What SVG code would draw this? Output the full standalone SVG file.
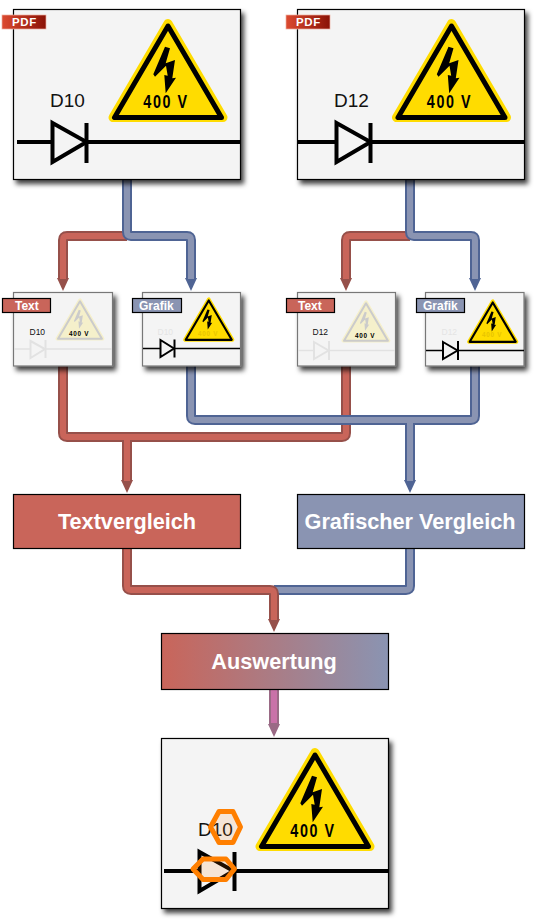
<svg xmlns="http://www.w3.org/2000/svg" xmlns:xlink="http://www.w3.org/1999/xlink" width="538" height="922" viewBox="0 0 538 922">
<style>
text{font-family:"Liberation Sans",Arial,sans-serif}
.box{fill:#f4f4f4;stroke:#000;stroke-width:1.2;filter:url(#sh)}
.sbox{fill:#f4f4f4;stroke:#777;stroke-width:1.2;filter:url(#sh)}
.flat{stroke:#000;stroke-width:1.2}
.big{font-weight:bold;font-size:21.7px;fill:#fff;text-anchor:middle}
.tag{font-weight:bold;font-size:12px;fill:#fff}
.pdf{font-weight:bold;font-size:11.5px;fill:#fff;letter-spacing:.6px}
.t{fill:none;stroke-linejoin:round}
.ro{stroke:#96504a;stroke-width:10}
.ri{stroke:#c9655a;stroke-width:6}
.bo{stroke:#4f6494;stroke-width:10}
.bi{stroke:#8a94b2;stroke-width:6}
.po{stroke:#9a6a85;stroke-width:10}
.pi{stroke:#c972a8;stroke-width:6}
.v,.vs{font-weight:bold;text-anchor:middle}
.v{font-size:17.5px;letter-spacing:1.9px;fill:#000}
.vs{font-size:7.8px;letter-spacing:.85px}
.dl{font-size:19px;fill:#111}
.ds{font-size:8.5px}
.hex{fill:#ff7f00;fill-opacity:.12;stroke:#ff7f00;stroke-width:5;stroke-linejoin:round}
.d4{stroke:#000;stroke-width:4;fill:#f4f4f4}
.d2{stroke:#000;stroke-width:2;fill:#f4f4f4}
.dp{stroke:#e2e2e2;stroke-width:2;fill:#f4f4f4}
</style>
<defs>
<filter id="sh" x="-10%" y="-10%" width="125%" height="125%"><feDropShadow dx="3" dy="4" stdDeviation="2.8" flood-color="#000" flood-opacity=".75"/></filter>
<linearGradient id="pdfg" x1="0" x2="1" y1="0" y2="0"><stop offset="0" stop-color="#dc4a30"/><stop offset="1" stop-color="#8a1206"/></linearGradient>
<linearGradient id="ausw" x1="0" x2="1" y1="0" y2="0"><stop offset="0" stop-color="#c9655a"/><stop offset="1" stop-color="#8a94b2"/></linearGradient>
<marker id="hr" markerUnits="userSpaceOnUse" markerWidth="14" markerHeight="12" refX="0" refY="6" orient="auto" overflow="visible"><path d="M0,0 L13,6 L0,12Z" fill="#96504a"/></marker>
<marker id="hb" markerUnits="userSpaceOnUse" markerWidth="14" markerHeight="12" refX="0" refY="6" orient="auto" overflow="visible"><path d="M0,0 L13,6 L0,12Z" fill="#4f6494"/></marker>
<marker id="hp" markerUnits="userSpaceOnUse" markerWidth="14" markerHeight="12" refX="0" refY="6" orient="auto" overflow="visible"><path d="M0,0 L13,6 L0,12Z" fill="#9a6a85"/></marker>
<g id="sign">
<path d="M168,23.5 L113,117.5 H223Z" fill="#ffdc00" stroke="#ffdc00" stroke-width="9" stroke-linejoin="round"/>
<path d="M168,26 L114.5,117.5 H221.5Z" fill="none" stroke="#000" stroke-width="5" stroke-linejoin="round"/>
<path d="M165,46.7 L170,48.3 L165.7,63.3 L175,60 L172.3,78.3 L176,77.7 L165.7,93.3 L164.3,75 L167.7,75.7 L166,65.7 L155,76.7 L153.3,74.3Z" fill="#000"/>
</g>
</defs>
<g id="connectors">
<g id="c-d10-text"><path class="t ro" marker-end="url(#hr)" d="M127,236 H67 Q63,236 63,240 V278"/><path class="t ri" d="M127,236 H67 Q63,236 63,240 V279"/></g>
<g id="c-d10-grafik"><path class="t bo" marker-end="url(#hb)" d="M127,178 V232 Q127,236 131,236 H187 Q191,236 191,240 V278"/><path class="t bi" d="M127,178 V232 Q127,236 131,236 H187 Q191,236 191,240 V279"/></g>
<g id="c-d12-text"><path class="t ro" marker-end="url(#hr)" d="M410,236 H350 Q346,236 346,240 V278"/><path class="t ri" d="M410,236 H350 Q346,236 346,240 V279"/></g>
<g id="c-d12-grafik"><path class="t bo" marker-end="url(#hb)" d="M410,178 V232 Q410,236 414,236 H471 Q475,236 475,240 V278"/><path class="t bi" d="M410,178 V232 Q410,236 414,236 H471 Q475,236 475,240 V279"/></g>
<g id="c-text-vergleich"><path class="t ro" d="M63,364 V433 Q63,437 67,437 H342 Q346,437 346,433 V364"/><path class="t ro" marker-end="url(#hr)" d="M127,437 V480"/><path class="t ri" d="M63,364 V433 Q63,437 67,437 H342 Q346,437 346,433 V364 M127,437 V481"/></g>
<g id="c-grafik-vergleich"><path class="t bo" d="M191,364 V416 Q191,420 195,420 H471 Q475,420 475,416 V364"/><path class="t bo" marker-end="url(#hb)" d="M410,420 V480"/><path class="t bi" d="M191,364 V416 Q191,420 195,420 H471 Q475,420 475,416 V364 M410,420 V481"/></g>
<g id="c-grafik-ausw"><path class="t bo" d="M410,547 V586 Q410,590 406,590 H274"/><path class="t bi" d="M410,547 V586 Q410,590 406,590 H274"/></g>
<g id="c-text-ausw"><path class="t ro" marker-end="url(#hr)" d="M127,547 V586 Q127,590 131,590 H270 Q274,590 274,594 V619"/><path class="t ri" d="M127,547 V586 Q127,590 131,590 H270 Q274,590 274,594 V620"/></g>
<g id="c-ausw-result"><path class="t po" marker-end="url(#hp)" d="M274,689 V724"/><path class="t pi" d="M274,689 V723"/></g>
</g>
<g id="pdf-d10">
<rect class="box" x="13.5" y="9.5" width="227" height="170"/>
<use xlink:href="#sign" href="#sign"/>
<text class="v" transform="translate(166,108) scale(.82,1)">400 V</text>
<text class="dl" x="50" y="107">D10</text>
<path d="M17,142 H240" stroke="#000" stroke-width="4"/>
<path class="d4" d="M52.5,123 L86.5,142 L52.5,162Z"/>
<path d="M86.5,123 V163" stroke="#000" stroke-width="4"/>
<rect x="2" y="15" width="44" height="14" fill="url(#pdfg)" stroke="#eeb0a0" stroke-width=".7"/>
<text class="pdf" x="12" y="26">PDF</text>
</g>
<g id="pdf-d12">
<rect class="box" x="297.5" y="9.5" width="227" height="170"/>
<use xlink:href="#sign" href="#sign" x="283.5"/>
<text class="v" transform="translate(449.5,108) scale(.82,1)">400 V</text>
<text class="dl" x="334" y="107">D12</text>
<path d="M298,142 H524" stroke="#000" stroke-width="4"/>
<path class="d4" d="M336.5,123 L370.5,142 L336.5,162Z"/>
<path d="M370.5,123 V163" stroke="#000" stroke-width="4"/>
<rect x="286" y="15" width="44" height="14" fill="url(#pdfg)" stroke="#eeb0a0" stroke-width=".7"/>
<text class="pdf" x="296" y="26">PDF</text>
</g>
<g id="text-d10">
<rect class="sbox" x="13.5" y="292.5" width="99" height="73.5"/>
<use xlink:href="#sign" href="#sign" transform="translate(11.1,290.6) scale(.41)" opacity=".16"/>
<text class="vs" transform="translate(79,335.5) scale(.82,1)" fill="#000">400 V</text>
<text class="ds" x="29.5" y="335" fill="#111">D10</text>
<path d="M14,349 H112" stroke="#e2e2e2" stroke-width="1.5"/>
<path class="dp" d="M30.5,341 L45,349 L30.5,358Z"/><path d="M45.5,340 V358" stroke="#e2e2e2" stroke-width="2"/>
<rect class="flat" x="2.5" y="298.5" width="48" height="14" fill="#c9655a"/>
<text class="tag" x="15" y="310">Text</text>
</g>
<g id="grafik-d10">
<rect class="sbox" x="142.5" y="292.5" width="98" height="73.5"/>
<use xlink:href="#sign" href="#sign" transform="translate(136.5,289.3) scale(.43)"/>
<text class="vs" transform="translate(208,335.5) scale(.82,1)" fill="#e8c400">400 V</text>
<text class="ds" x="157.5" y="335" fill="#e4e4e4">D10</text>
<path d="M143,348.5 H240" stroke="#000" stroke-width="1.6"/>
<path class="d2" d="M160.5,340 L174,348.5 L160.5,357Z"/><path d="M174.5,339.5 V357.5" stroke="#000" stroke-width="2"/>
<rect class="flat" x="132.5" y="298.5" width="49" height="14" fill="#8a94b2"/>
<text class="tag" x="139" y="310">Grafik</text>
</g>
<g id="text-d12">
<rect class="sbox" x="297.5" y="292.5" width="98" height="73.5"/>
<use xlink:href="#sign" href="#sign" transform="translate(297.1,292.6) scale(.41)" opacity=".16"/>
<text class="vs" transform="translate(365,337.5) scale(.82,1)" fill="#000">400 V</text>
<text class="ds" x="312.5" y="335" fill="#111">D12</text>
<path d="M298,350.5 H395" stroke="#e2e2e2" stroke-width="1.5"/>
<path class="dp" d="M314,342 L328.5,350.5 L314,359Z"/><path d="M329,341 V360" stroke="#e2e2e2" stroke-width="2"/>
<rect class="flat" x="286.5" y="298.5" width="48" height="14" fill="#c9655a"/>
<text class="tag" x="298" y="310">Text</text>
</g>
<g id="grafik-d12">
<rect class="sbox" x="425.5" y="292.5" width="98.5" height="73.5"/>
<use xlink:href="#sign" href="#sign" transform="translate(420.5,291.3) scale(.43)"/>
<text class="vs" transform="translate(492,337) scale(.82,1)" fill="#e8c400">400 V</text>
<text class="ds" x="441.5" y="335" fill="#e4e4e4">D12</text>
<path d="M426,350.5 H524" stroke="#000" stroke-width="1.6"/>
<path class="d2" d="M443,342 L457.5,350.5 L443,359Z"/><path d="M458,341 V360" stroke="#000" stroke-width="2"/>
<rect class="flat" x="416.5" y="298.5" width="48" height="14" fill="#8a94b2"/>
<text class="tag" x="423" y="310">Grafik</text>
</g>
<g id="textvergleich">
<rect class="flat" x="13.5" y="494.5" width="227" height="54" fill="#c9655a"/>
<text class="big" x="127" y="529">Textvergleich</text>
</g>
<g id="grafischer-vergleich">
<rect class="flat" x="297.5" y="494.5" width="227" height="54" fill="#8a94b2"/>
<text class="big" x="410" y="529">Grafischer Vergleich</text>
</g>
<g id="auswertung">
<rect class="flat" x="161.5" y="633.5" width="227" height="56" fill="url(#ausw)"/>
<text class="big" x="274" y="669">Auswertung</text>
</g>
<g id="ergebnis">
<rect class="box" x="161.5" y="738.5" width="227" height="170"/>
<use xlink:href="#sign" href="#sign" x="147" y="729"/>
<text class="v" transform="translate(313,837) scale(.82,1)">400 V</text>
<text class="dl" x="198" y="836">D10</text>
<path d="M164,871 H388" stroke="#000" stroke-width="4"/>
<path class="d4" d="M199.5,852 L233.5,871 L199.5,891Z"/>
<path d="M234.5,852 V891" stroke="#000" stroke-width="4"/>
<path class="hex" d="M210.5,827 L219,811.5 H233 L240.5,827 L233,842.5 H219Z"/>
<path class="hex" d="M193,869 L203,859 H226 L234.5,869 L226,879.5 H203Z"/>
</g>
</svg>
